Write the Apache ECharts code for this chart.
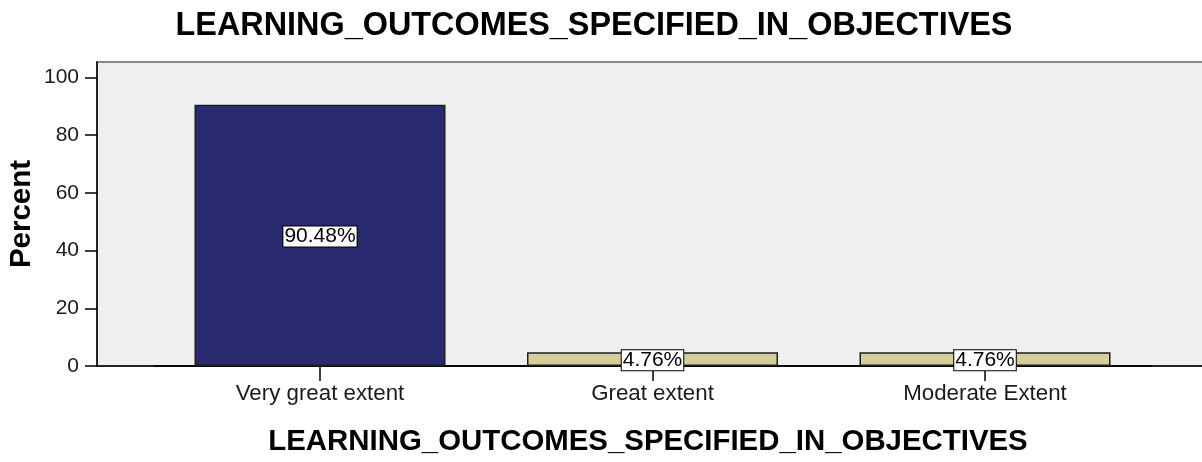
<!DOCTYPE html>
<html>
<head>
<meta charset="utf-8">
<script src="https://cdn.jsdelivr.net/npm/echarts@6/dist/echarts.min.js"></script>
<style>
  html, body { margin: 0; padding: 0; background: #ffffff; }
  #chart { width: 1202px; height: 462px; }
</style>
</head>
<body>
<div id="chart"></div>
<script>
// Response categories and their share of respondents (percent)
const categories = ['Very great extent', 'Great extent', 'Moderate Extent'];
const percentValues = [90.48, 4.76, 4.76];
const barColors = ['#28296f', '#d4cf98', '#d4cf98'];
const yTicks = [0, 20, 40, 60, 80, 100];
const chartTitle = 'LEARNING_OUTCOMES_SPECIFIED_IN_OBJECTIVES';
const yAxisTitle = 'Percent';

const FONT = '"Liberation Sans", Arial, sans-serif';
const Y_MAX = 105.3;

const chart = echarts.init(document.getElementById('chart'), null, { renderer: 'canvas' });

chart.setOption({
  animation: false,
  backgroundColor: '#ffffff',
  title: {
    text: chartTitle,
    left: 589,
    textAlign: 'center',
    top: 5,
    textStyle: { fontFamily: FONT, fontSize: 32.4, fontWeight: 'bold', color: '#000000' }
  },
  grid: [
    {
      // plot frame with the value axis
      left: 97, top: 62, right: -20, bottom: 96,
      containLabel: false, outerBoundsMode: 'none',
      show: true, backgroundColor: '#efefef',
      borderColor: '#8a8a8a', borderWidth: 2
    },
    {
      // band area holding the three bars
      left: 153.75, top: 62, width: 997.5, bottom: 96,
      containLabel: false, outerBoundsMode: 'none'
    }
  ],
  xAxis: [
    {
      gridIndex: 0, type: 'value', min: 0, max: 1,
      axisLine: { show: true, lineStyle: { color: '#000000', width: 1.5 } },
      axisTick: { show: false }, axisLabel: { show: false }, splitLine: { show: false }
    },
    {
      gridIndex: 1, type: 'category', data: categories,
      axisLine: { show: true, lineStyle: { color: '#000000', width: 1.5 } },
      axisTick: { show: true, alignWithLabel: true, length: 15, lineStyle: { color: '#000000', width: 1.5 } },
      axisLabel: { fontFamily: FONT, fontSize: 22.3, color: '#1a1a1a', margin: 17 },
      name: chartTitle,
      nameLocation: 'middle',
      nameGap: 61,
      nameMoveOverlap: false,
      nameTextStyle: {
        fontFamily: FONT, fontSize: 29.4, fontWeight: 'bold', color: '#000000',
        padding: [0, 9, 0, 0]
      }
    }
  ],
  yAxis: [
    {
      gridIndex: 0, type: 'value', min: 0, max: Y_MAX,
      axisLine: { show: true, lineStyle: { color: '#000000', width: 1.5 } },
      axisTick: { show: true, length: 12, customValues: yTicks, lineStyle: { color: '#000000', width: 1.5 } },
      axisLabel: { customValues: yTicks, fontFamily: FONT, fontSize: 21, color: '#1a1a1a', margin: 18 },
      splitLine: { show: false },
      name: yAxisTitle,
      nameLocation: 'middle',
      nameRotate: 90,
      nameGap: 60,
      nameMoveOverlap: false,
      nameTextStyle: { fontFamily: FONT, fontSize: 29.5, fontWeight: 'bold', color: '#000000' }
    },
    {
      gridIndex: 1, type: 'value', min: 0, max: Y_MAX, show: false
    }
  ],
  series: [
    {
      type: 'bar',
      xAxisIndex: 1,
      yAxisIndex: 1,
      barWidth: 251,
      data: percentValues.map((v, i) => ({ value: v, itemStyle: { color: barColors[i] } })),
      itemStyle: { borderColor: '#1e1e1e', borderWidth: 1.5 },
      label: {
        show: true,
        position: 'inside',
        offset: [0, 1],
        formatter: p => p.value.toFixed(2) + '%',
        fontFamily: FONT,
        fontSize: 21,
        color: '#000000',
        backgroundColor: '#ffffff',
        borderColor: '#000000',
        borderWidth: 1,
        padding: [0, 1, -1, 1]
      }
    }
  ]
});
</script>
</body>
</html>
